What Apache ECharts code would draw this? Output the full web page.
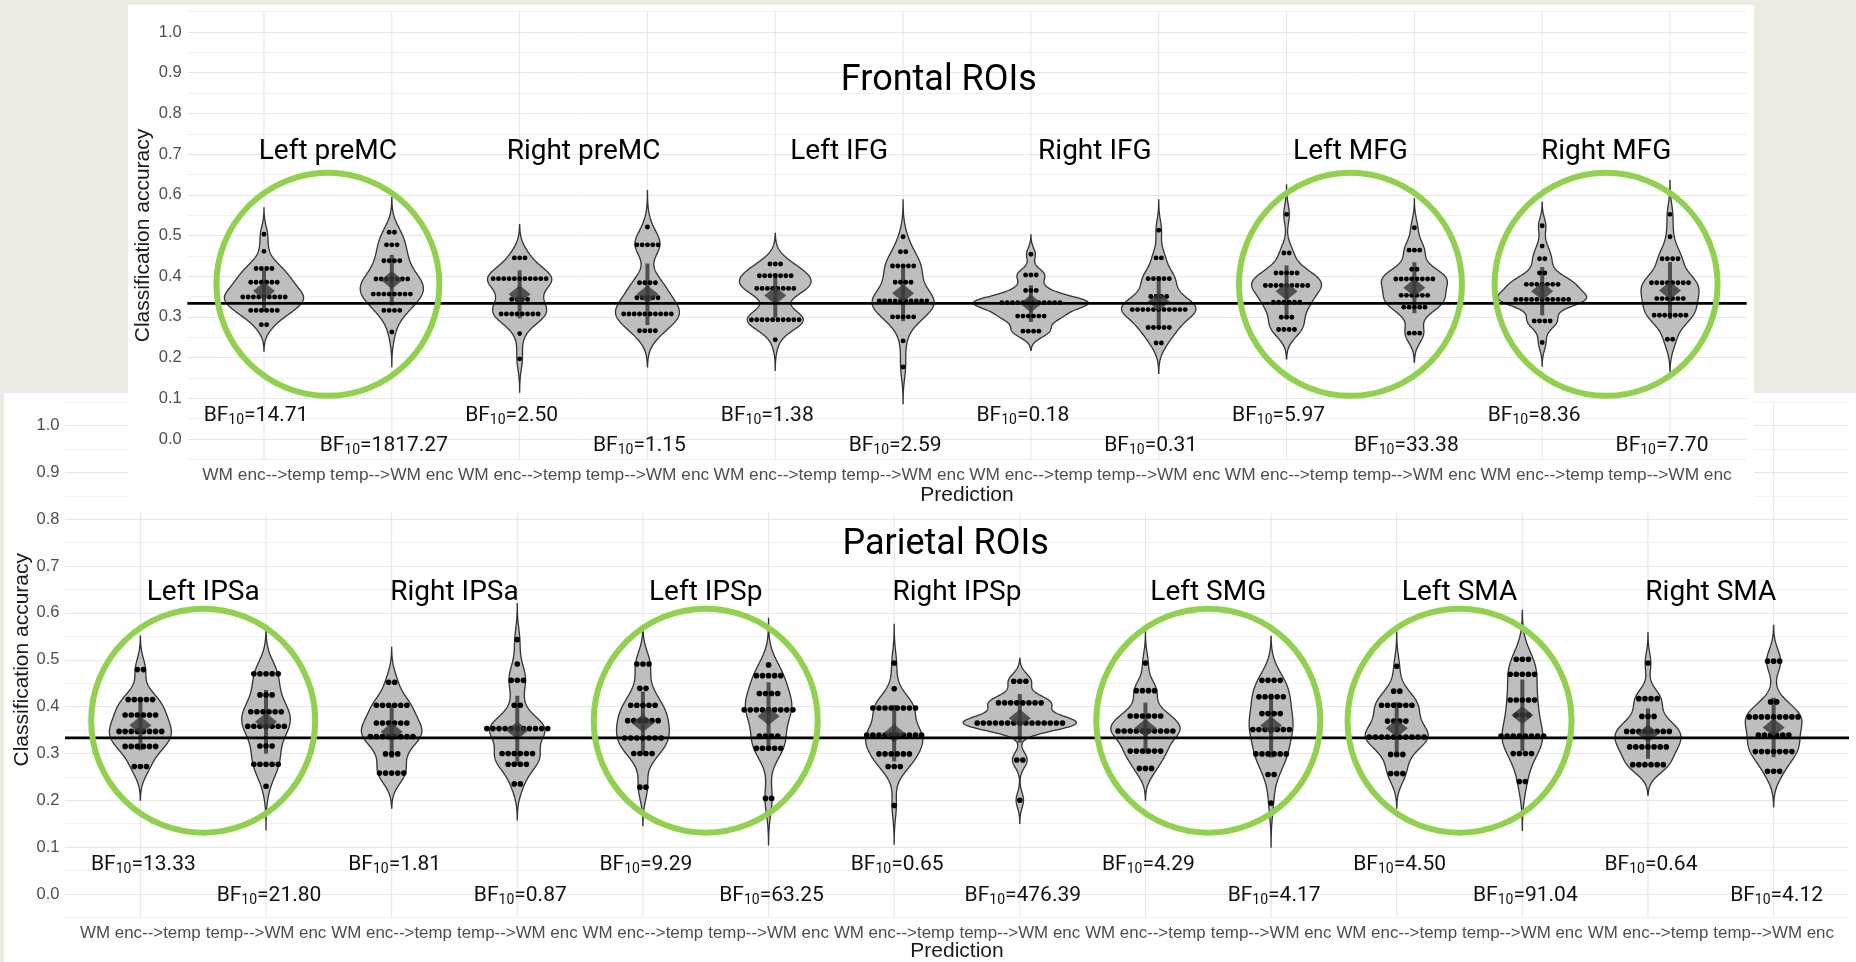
<!DOCTYPE html>
<html>
<head>
<meta charset="utf-8">
<title>Frontal and parietal ROIs</title>
<script src="https://cdn.jsdelivr.net/npm/echarts@6/dist/echarts.min.js"></script>
<style>
  html, body { margin: 0; padding: 0; background: #EDEAE3; }
  #chart { width: 1856px; height: 962px; }
</style>
</head>
<body>
<div id="chart"></div>
<script>
// ---- data -------------------------------------------------------------
const directions = ['WM enc-->temp', 'temp-->WM enc'];
const chanceLevel = 1 / 3;

const frontalRegions = ['Left preMC', 'Right preMC', 'Left IFG', 'Right IFG', 'Left MFG', 'Right MFG'];
const frontalBF = [14.71, 1817.27, 2.50, 1.15, 1.38, 2.59, 0.18, 0.31, 5.97, 33.38, 8.36, 7.70];
const frontalCircled = ['Left preMC', 'Left MFG', 'Right MFG'];
// per violin: [accuracy bin, participants in that bin]
const frontalScores = [
  [[0.503, 1], [0.461, 1], [0.419, 4], [0.385, 6], [0.349, 9], [0.316, 6], [0.281, 2]],
  [[0.508, 2], [0.477, 3], [0.438, 4], [0.393, 7], [0.356, 8], [0.316, 4], [0.263, 1]],
  [[0.445, 3], [0.394, 11], [0.343, 4], [0.307, 8], [0.259, 1], [0.197, 1]],
  [[0.521, 1], [0.477, 5], [0.384, 4], [0.347, 5], [0.307, 10], [0.266, 4]],
  [[0.430, 3], [0.401, 7], [0.370, 8], [0.293, 10], [0.244, 1]],
  [[0.497, 1], [0.460, 2], [0.425, 5], [0.385, 4], [0.339, 10], [0.300, 5], [0.241, 1], [0.177, 1]],
  [[0.454, 1], [0.403, 3], [0.365, 3], [0.335, 12], [0.302, 6], [0.265, 4]],
  [[0.513, 1], [0.445, 2], [0.394, 5], [0.350, 4], [0.318, 11], [0.274, 5], [0.236, 2]],
  [[0.552, 1], [0.457, 2], [0.408, 5], [0.377, 9], [0.336, 6], [0.299, 3], [0.269, 4]],
  [[0.519, 1], [0.464, 3], [0.417, 2], [0.393, 8], [0.353, 6], [0.324, 5], [0.260, 3]],
  [[0.524, 1], [0.474, 1], [0.443, 2], [0.408, 2], [0.380, 7], [0.343, 11], [0.290, 4], [0.237, 1]],
  [[0.552, 1], [0.497, 1], [0.443, 4], [0.384, 8], [0.345, 6], [0.304, 7], [0.245, 2]]
];

const parietalRegions = ['Left IPSa', 'Right IPSa', 'Left IPSp', 'Right IPSp', 'Left SMG', 'Left SMA', 'Right SMA'];
const parietalBF = [13.33, 21.80, 1.81, 0.87, 9.29, 63.25, 0.65, 476.39, 4.29, 4.17, 4.50, 91.04, 0.64, 4.12];
const parietalCircled = ['Left IPSa', 'Left IPSp', 'Left SMG', 'Left SMA'];
const parietalScores = [
  [[0.479, 2], [0.415, 5], [0.382, 6], [0.347, 8], [0.315, 6], [0.272, 3]],
  [[0.470, 5], [0.425, 3], [0.389, 6], [0.358, 7], [0.316, 3], [0.277, 5], [0.230, 1]],
  [[0.452, 2], [0.403, 6], [0.365, 6], [0.336, 8], [0.299, 3], [0.258, 5]],
  [[0.543, 1], [0.491, 1], [0.456, 3], [0.403, 2], [0.353, 11], [0.300, 6], [0.277, 4], [0.235, 2]],
  [[0.491, 3], [0.439, 2], [0.403, 5], [0.370, 6], [0.333, 7], [0.300, 4], [0.228, 2]],
  [[0.489, 1], [0.466, 5], [0.428, 4], [0.393, 9], [0.337, 4], [0.311, 5], [0.204, 2]],
  [[0.493, 1], [0.438, 1], [0.397, 8], [0.339, 10], [0.299, 6], [0.272, 3], [0.189, 1]],
  [[0.454, 3], [0.408, 8], [0.365, 15], [0.286, 2], [0.200, 1]],
  [[0.493, 1], [0.434, 4], [0.380, 6], [0.348, 10], [0.305, 6], [0.268, 3]],
  [[0.456, 4], [0.421, 5], [0.385, 4], [0.351, 7], [0.299, 6], [0.255, 2], [0.194, 1]],
  [[0.486, 1], [0.433, 2], [0.403, 6], [0.369, 4], [0.335, 10], [0.298, 3], [0.257, 3]],
  [[0.501, 3], [0.469, 5], [0.414, 5], [0.382, 3], [0.337, 8], [0.300, 4], [0.240, 2]],
  [[0.493, 1], [0.417, 4], [0.379, 3], [0.347, 8], [0.314, 7], [0.276, 6]],
  [[0.497, 3], [0.410, 2], [0.378, 9], [0.339, 6], [0.304, 7], [0.262, 3]]
];

// ---- statistics: mean, SD and a gaussian kernel density ----
const binHalf = 0.0175; // half the width of one dot-plot bin

// quantile of grouped data, each bin spread evenly over its width
function groupedQuantile(levels, n, p) {
  const sorted = levels.slice().sort((a, b) => a[0] - b[0]);
  const valueAtRank = r => {
    let start = 0;
    for (const [v, c] of sorted) {
      if (r < start + c) return v - binHalf + (r - start + 0.5) / c * 2 * binHalf;
      start += c;
    }
    const last = sorted[sorted.length - 1];
    return last[0] + binHalf;
  };
  const h = (n - 1) * p, lo = Math.floor(h);
  return valueAtRank(lo) + (h - lo) * (valueAtRank(Math.min(lo + 1, n - 1)) - valueAtRank(lo));
}
function summarise(levels) {
  const s = [];
  levels.forEach(([a, c]) => { for (let i = 0; i < c; i++) s.push(a); });
  s.sort((p, q) => p - q);
  const n = s.length;
  const mean = s.reduce((a, b) => a + b, 0) / n;
  const sd = Math.sqrt(s.reduce((a, b) => a + (b - mean) * (b - mean), 0) / (n - 1));
  const iqr = groupedQuantile(levels, n, 0.75) - groupedQuantile(levels, n, 0.25);
  const bw = 0.9 * Math.min(sd, iqr / 1.34) * Math.pow(n, -0.2);   // nrd0 rule
  const lo = s[0] - 3 * bw, hi = s[n - 1] + 3 * bw;                 // untrimmed tails
  const dens = [];
  const K = 240;
  for (let j = 0; j <= K; j++) {
    const y = lo + (hi - lo) * j / K;
    let d = 0;
    for (const x of s) { const u = (y - x) / bw; d += Math.exp(-0.5 * u * u); }
    dens.push([y, d / (n * bw * Math.sqrt(2 * Math.PI))]);
  }
  return { mean, sd, dens, levels };
}

// ---- shared styles ----
const annoFont = 'Roboto, "Liberation Sans", sans-serif';
const axisFont = '"Liberation Sans", Arial, sans-serif';
const green = '#92D050';

function buildPanel(cfg) {
  const stats = cfg.scores.map(summarise);
  const maxD = Math.max(...stats.map(s => Math.max(...s.dens.map(d => d[1]))));
  const nCat = cfg.scores.length;
  const gi = cfg.gridIndex;

  const xAxis = {
    type: 'value', gridIndex: gi, min: 0.4, max: nCat + 0.6, interval: 0.2, z: cfg.z,
    axisLine: { show: false }, axisTick: { show: false }, splitLine: { show: false },
    axisLabel: {
      margin: 7, color: '#4D4D4D', fontSize: cfg.tickFont, fontFamily: axisFont,
      formatter: v => {
        const k = Math.round(v);
        if (Math.abs(v - k) > 1e-6 || k < 1 || k > nCat) return '';
        return directions[(k - 1) % 2];
      }
    },
    name: 'Prediction', nameLocation: 'middle', nameGap: cfg.xNameGap, nameMoveOverlap: false,
    nameTextStyle: { color: '#1A1A1A', fontSize: 21, fontFamily: axisFont }
  };
  const yAxis = {
    type: 'value', gridIndex: gi, min: -0.05, max: 1.05, interval: 0.05, z: cfg.z,
    axisLine: { show: false }, axisTick: { show: false },
    splitLine: { show: true, lineStyle: { color: ['#F1F1F1', '#E6E6E6'], width: 1 } },
    axisLabel: {
      margin: 5.5, color: '#4D4D4D', fontSize: 16.5, fontFamily: axisFont,
      formatter: v => {
        const k = Math.round(v * 20);
        if (k % 2 !== 0 || k < 0) return '';
        return (k / 20).toFixed(1);
      }
    },
    name: 'Classification accuracy', nameLocation: 'middle', nameRotate: 90,
    nameGap: cfg.yNameGap, nameMoveOverlap: false,
    nameTextStyle: { color: '#1A1A1A', fontSize: 21, fontFamily: axisFont }
  };

  const violins = {
    type: 'custom', xAxisIndex: gi, yAxisIndex: gi, z: cfg.z + 1, silent: true, animation: false,
    data: cfg.scores.map((_, i) => [i + 1]),
    renderItem: (params, api) => {
      const i = params.dataIndex;
      const st = stats[i];
      const x = i + 1;
      const children = [];
      // vertical grid line at the category
      const gTop = api.coord([x, 1.05]), gBot = api.coord([x, -0.05]);
      children.push({ type: 'line', z2: 0, shape: { x1: gTop[0], y1: gTop[1], x2: gBot[0], y2: gBot[1] },
        style: { stroke: '#E6E6E6', lineWidth: 1 } });
      // violin outline from the density
      const right = [], left = [];
      st.dens.forEach(([y, d]) => {
        const hw = d / maxD * 0.45;
        right.push(api.coord([x + hw, y]));
        left.push(api.coord([x - hw, y]));
      });
      children.push({ type: 'polygon', z2: 1, shape: { points: right.concat(left.reverse()) },
        style: { fill: '#BEBEBE', stroke: '#333333', lineWidth: 1.3 } });
      // mean +/- SD bar
      const a = api.coord([x, st.mean - st.sd]), b = api.coord([x, st.mean + st.sd]);
      children.push({ type: 'line', z2: 2, shape: { x1: a[0], y1: a[1], x2: b[0], y2: b[1] },
        style: { stroke: 'rgba(60,60,60,0.85)', lineWidth: 4 } });
      // participants, stacked around the centre
      const unit = api.size([0, 0.01])[1];
      const step = unit * 1.3, r = unit * 0.6;
      st.levels.forEach(([v, c]) => {
        const p = api.coord([x, v]);
        for (let k = 0; k < c; k++) {
          children.push({ type: 'circle', z2: 3,
            shape: { cx: p[0] + (k - (c - 1) / 2) * step, cy: p[1], r: r },
            style: { fill: '#000000' } });
        }
      });
      // mean diamond
      const m = api.coord([x, st.mean]);
      children.push({ type: 'polygon', z2: 4,
        shape: { points: [[m[0], m[1] - 9], [m[0] + 11, m[1]], [m[0], m[1] + 9], [m[0] - 11, m[1]]] },
        style: { fill: 'rgba(55,55,55,0.8)' } });
      // Bayes factor label
      const bp = api.coord([x, cfg.bfY[i % 2]]);
      children.push({ type: 'text', z2: 5, x: bp[0] + cfg.bfShift, y: bp[1],
        style: {
          text: '{a|BF}{b|10}{a|=' + cfg.bf[i].toFixed(2) + '}',
          textAlign: 'center', textVerticalAlign: 'middle',
          rich: {
            a: { fontSize: 21, fontFamily: annoFont, fill: '#111111', lineHeight: 24 },
            b: { fontSize: 14, fontFamily: annoFont, fill: '#111111', lineHeight: 14, verticalAlign: 'bottom' }
          }
        } });
      // region name above each pair
      if (i % 2 === 0) {
        const rp = api.coord([x + 0.5, cfg.roiY]);
        children.push({ type: 'text', z2: 5, x: rp[0], y: rp[1],
          style: { text: cfg.regions[i / 2], font: '28px ' + annoFont, fill: '#000000',
            textAlign: 'center', textVerticalAlign: 'middle' } });
      }
      if (i === 0) {
        const tp = api.coord([cfg.titleX, cfg.titleY]);
        children.push({ type: 'text', z2: 5, x: tp[0], y: tp[1],
          style: { text: cfg.title, font: '36px ' + annoFont, fill: '#000000',
            textAlign: 'center', textVerticalAlign: 'middle' } });
      }
      return { type: 'group', children };
    }
  };

  const chance = {
    type: 'line', xAxisIndex: gi, yAxisIndex: gi, z: cfg.z + 2, silent: true, animation: false,
    symbol: 'none', lineStyle: { color: '#000000', width: 2.6 },
    data: [[0.4, chanceLevel], [nCat + 0.6, chanceLevel]]
  };

  const circledIdx = cfg.circled.map(name => cfg.regions.indexOf(name));
  const highlights = {
    type: 'custom', xAxisIndex: gi, yAxisIndex: gi, z: cfg.z + 3, silent: true, animation: false,
    data: circledIdx.map(r => [2 * r + 1.5]),
    renderItem: (params, api) => {
      const c = api.coord([api.value(0), cfg.circleY]);
      return { type: 'circle', shape: { cx: c[0], cy: c[1], r: cfg.circleR },
        style: { fill: 'none', stroke: green, lineWidth: 6 } };
    }
  };

  return { xAxis, yAxis, series: [violins, chance, highlights] };
}

const parietal = buildPanel({
  gridIndex: 0, z: 2, regions: parietalRegions, bf: parietalBF, circled: parietalCircled,
  scores: parietalScores, title: 'Parietal ROIs', titleX: 7.41, titleY: 0.746, roiY: 0.643,
  bfY: [0.062, -0.003], bfShift: 3, circleY: 0.37, circleR: 112,
  tickFont: 16.9, xNameGap: 23, yNameGap: 32.5
});
const frontal = buildPanel({
  gridIndex: 1, z: 6, regions: frontalRegions, bf: frontalBF, circled: frontalCircled,
  scores: frontalScores, title: 'Frontal ROIs', titleX: 6.28, titleY: 0.879, roiY: 0.706,
  bfY: [0.058, -0.017], bfShift: -8, circleY: 0.38, circleR: 111.5,
  tickFont: 17.3, xNameGap: 25, yNameGap: 34
});

const option = {
  backgroundColor: '#EDEAE3',
  animation: false,
  grid: [
    { left: 65, right: 7, top: 402.1, bottom: 44.6, outerBoundsMode: 'none', containLabel: false },
    { left: 187.3, right: 109.3, top: 11.65, bottom: 502.65, outerBoundsMode: 'none', containLabel: false }
  ],
  graphic: [
    { type: 'rect', z: 1, silent: true, shape: { x: 4, y: 393, width: 1852, height: 569 }, style: { fill: '#FFFFFF' } },
    { type: 'rect', z: 5, silent: true, shape: { x: 128, y: 5, width: 1626, height: 506 }, style: { fill: '#FFFFFF' } }
  ],
  xAxis: [parietal.xAxis, frontal.xAxis],
  yAxis: [parietal.yAxis, frontal.yAxis],
  series: parietal.series.concat(frontal.series)
};

const chart = echarts.init(document.getElementById('chart'), null, { renderer: 'canvas' });
chart.setOption(option);
</script>
</body>
</html>
